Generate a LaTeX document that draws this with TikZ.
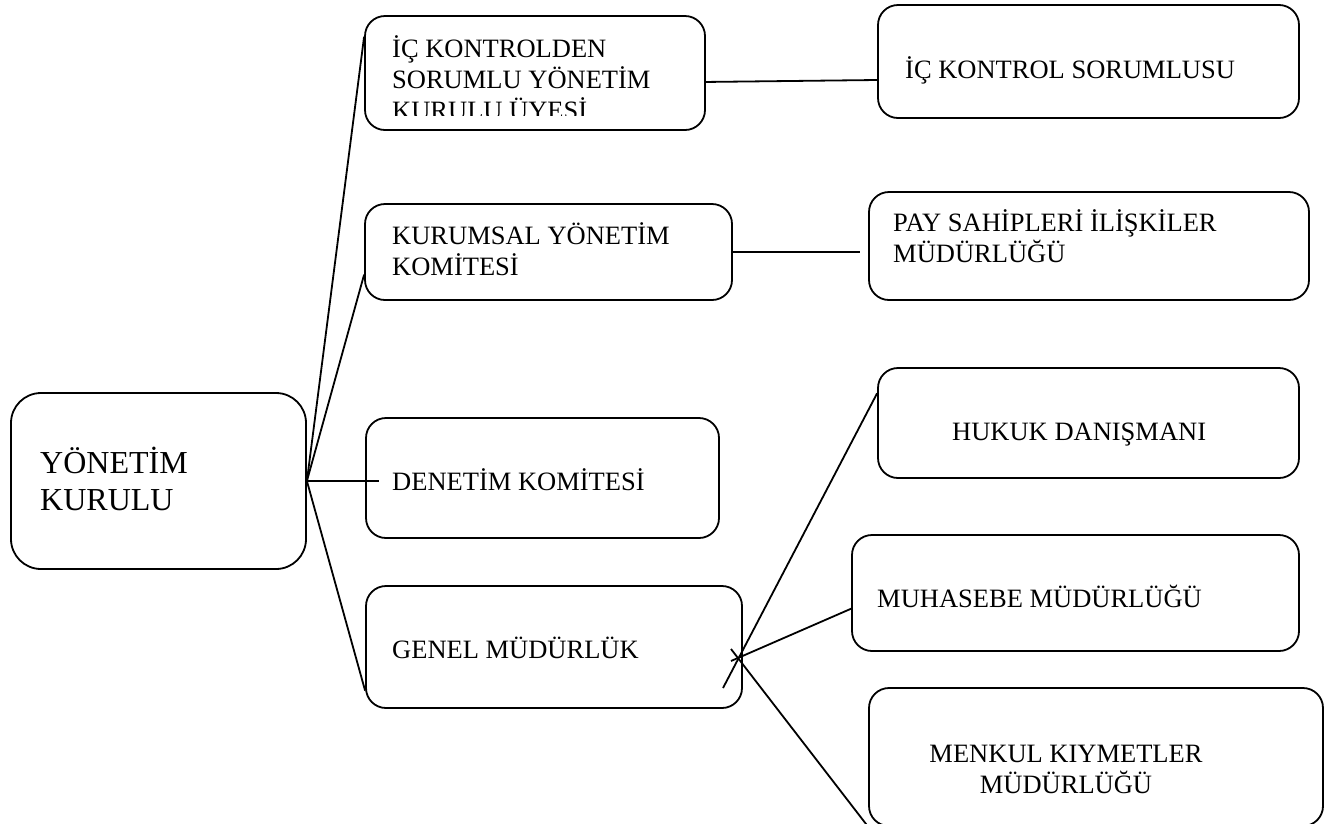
\documentclass[tikz,border=0pt]{standalone}
\usepackage{fontspec}
\setmainfont{Liberation Serif}
\usetikzlibrary{calc}

\tikzset{
  unit/.style={draw, rounded corners=20pt, line width=1.8pt, inner sep=0pt},
  unittext/.style={anchor=base west, inner sep=0pt, align=left, font=\fontsize{26.5}{31}\selectfont},
  link/.style={line width=1.8pt},
}

\begin{document}
\begin{tikzpicture}[x=1pt,y=-1pt]
  \useasboundingbox (0,0) rectangle (1340,823);

  % the board
  \node[unit, rounded corners=30pt, minimum width=295pt, minimum height=176pt] (kurul) at (158.5,481) {};
  \node[unittext, font=\fontsize{32}{37}\selectfont] (kurul-t) at (40,510) {YÖNETİM\\KURULU};

  % draw the boxes
  \foreach \name/\cx/\cy/\w/\h in {icuye/535/73/340/114, kurumsal/548.5/252/367/96,
    denetim/542.5/478/353/120, genel/554/647/376/122, icsor/1088.5/61.5/421/113,
    pay/1089/246/440/108, hukuk/1088.5/423/421/110, muhasebe/1075.5/593/447/116,
    menkul/1096/757/454/138}
    \node[unit, minimum width=\w pt, minimum height=\h pt] (\name) at (\cx,\cy) {};

  % box texts (base = last line)
  \begin{scope}
    \clip (365,16) rectangle (705,115);
    \node[unittext] (icuye-t) at (392,119) {İÇ KONTROLDEN\\SORUMLU YÖNETİM\\KURULU ÜYESİ};
  \end{scope}
  \node[unittext] (kurumsal-t) at (392,275) {KURUMSAL YÖNETİM\\KOMİTESİ};
  \node[unittext] (denetim-t) at (392,490) {DENETİM KOMİTESİ};
  \node[unittext] (genel-t) at (392,658) {GENEL MÜDÜRLÜK};
  \node[unittext] (icsor-t) at (905,78) {İÇ KONTROL SORUMLUSU};
  \node[unittext] (pay-t) at (893,262) {PAY SAHİPLERİ İLİŞKİLER\\MÜDÜRLÜĞÜ};
  \node[unittext] (hukuk-t) at (952,440) {HUKUK DANIŞMANI};
  \node[unittext] (muhasebe-t) at (877,607) {MUHASEBE MÜDÜRLÜĞÜ};
  \node[unittext, anchor=base, align=center] (menkul-t) at (1066,793) {MENKUL KIYMETLER\\MÜDÜRLÜĞÜ};

  % lines from the board
  \coordinate (denetim-end) at (379,481);
  \draw[link] (kurul.east) -- (icuye.168);
  \draw[link] (kurul.east) -- (kurumsal.187);
  \draw[link] (kurul.east) -- (denetim-end);
  \draw[link] (kurul.east) -- (genel.193);

  % side links
  \draw[link] (icuye.357) -- (icsor.185);
  \draw[link, shorten >=8pt] (kurumsal.east) -- (kurumsal.east -| pay.west);

  % fan out of the general directorate
  \coordinate (g1) at (723,688);
  \coordinate (g2) at (731,661);
  \coordinate (g3) at (731,649);
  \draw[link] (g1) -- (hukuk.172);
  \draw[link] (g2) -- (muhasebe.184);
  \draw[link] (g3) -- (menkul.197);
\end{tikzpicture}
\end{document}
